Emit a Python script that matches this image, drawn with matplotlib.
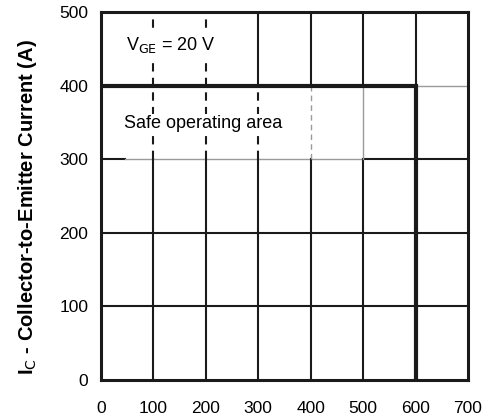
import matplotlib.pyplot as plt
import numpy as np

plt.rcParams['font.family'] = ['Liberation Sans', 'DejaVu Sans']

# axis ticks
x_ticks = [0, 100, 200, 300, 400, 500, 600, 700]
y_ticks = [0, 100, 200, 300, 400, 500]

# safe operating area boundary: max current and max voltage
soa_v = [0, 600, 600]
soa_i = [400, 400, 0]

fig = plt.figure(figsize=(4.9, 4.19), dpi=100)
ax = fig.add_axes([0.206, 0.093, 0.749, 0.878])
ax.set_xlim(0, 700)
ax.set_ylim(0, 500)

grid_kw = dict(color='#1a1a1a', lw=1.5, zorder=1)
gray_kw = dict(color='#9a9a9a', lw=1.0, zorder=1)
dash_kw = dict(color='#1a1a1a', lw=1.5, ls=(0, (4, 3)), zorder=1)

# horizontal grid
for yv in [100, 200]:
    ax.plot([0, 700], [yv, yv], **grid_kw)
ax.plot([0, 45], [300, 300], **grid_kw)
ax.plot([45, 500], [300, 300], **gray_kw)
ax.plot([500, 700], [300, 300], **grid_kw)
ax.plot([600, 700], [400, 400], **gray_kw)

# vertical grid
for xv in [100, 200]:
    ax.plot([xv, xv], [0, 300], **grid_kw)
    ax.plot([xv, xv], [300, 500], **dash_kw)
ax.plot([300, 300], [0, 300], **grid_kw)
ax.plot([300, 300], [300, 400], **dash_kw)
ax.plot([300, 300], [400, 500], **grid_kw)
ax.plot([400, 400], [0, 300], **grid_kw)
ax.plot([400, 400], [300, 400], color='#9a9a9a', lw=1.0, ls=(0, (4, 3)), zorder=1)
ax.plot([400, 400], [400, 500], **grid_kw)
ax.plot([500, 500], [0, 300], **grid_kw)
ax.plot([500, 500], [300, 400], **gray_kw)
ax.plot([500, 500], [400, 500], **grid_kw)
ax.plot([600, 600], [400, 500], **grid_kw)

# SOA boundary
ax.plot(soa_v, soa_i, color='#1a1a1a', lw=3.0, solid_joinstyle='miter', zorder=2)

box = dict(facecolor='white', edgecolor='none', pad=1)
ax.text(48, 455, r'V$_{\mathrm{GE}}$ = 20 V', fontsize=13, va='center', ha='left',
        bbox=box, zorder=3)
ax.text(44, 348, 'Safe operating area', fontsize=13, va='center', ha='left',
        bbox=box, zorder=3)

ax.set_xticks(x_ticks)
ax.set_yticks(y_ticks)
ax.tick_params(length=0, labelsize=12.5)
ax.tick_params(axis='x', pad=15)
ax.tick_params(axis='y', pad=9)
for s in ax.spines.values():
    s.set_linewidth(2.2)
    s.set_color('#1a1a1a')
    s.set_zorder(4)

ax.set_ylabel(r'I$_{\mathrm{C}}$ - Collector-to-Emitter Current (A)',
              fontsize=14.5, fontweight='bold')
ax.yaxis.set_label_coords(-0.17, 0.47)

fig.savefig('out.png', dpi=100)
